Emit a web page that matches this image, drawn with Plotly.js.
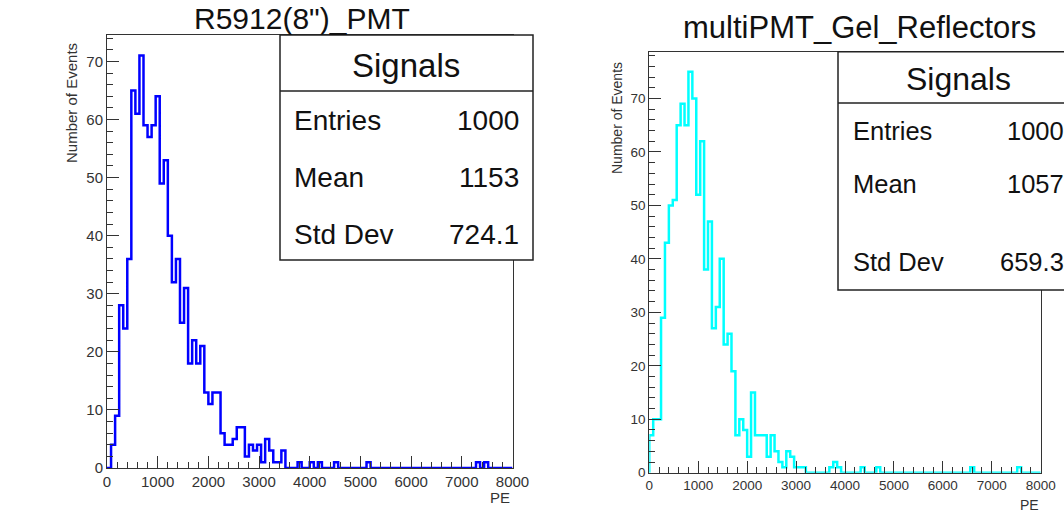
<!DOCTYPE html>
<html>
<head>
<meta charset="utf-8">
<script src="https://cdn.plot.ly/plotly-3.0.1.min.js"></script>
<style>html,body{margin:0;padding:0;background:#fff;}#plot{width:1064px;height:512px;}</style>
</head>
<body>
<div id="plot"></div>
<script>
// ---- data ----
const binWidth = 80; // PE per bin, 100 bins over 0-8000
const leftCounts = [
  0,4,9,28,24,36,65,61,71,59,
  57,59,64,49,53,40,32,36,25,31,
  18,22,18,21,13,11,13,13,6,4,
  4,5,7,7,2,4,3,4,1,5,
  3,1,1,3,0,0,0,1,0,0,
  1,0,1,0,0,0,1,0,0,0,
  0,0,0,0,1,0,0,0,0,0,
  0,0,0,0,0,0,0,0,0,0,
  0,0,0,0,0,0,0,0,0,0,
  0,1,0,1,0,0,0,0,0,0
];
const rightCounts = [
  7,10,10,29,43,50,51,65,69,65,
  75,70,52,62,38,47,27,31,40,24,
  26,19,7,10,8,3,15,7,7,7,
  3,7,4,2,1,4,3,1,1,1,
  0,0,0,0,0,0,1,2,1,0,
  0,0,0,0,1,0,0,0,1,0,
  0,0,0,0,0,0,0,0,0,0,
  0,0,0,0,0,0,0,0,0,0,
  0,0,1,0,0,0,0,0,0,0,
  0,0,0,0,1,0,0,0,0,0
];
const titles = ['R5912(8")_PMT', 'multiPMT_Gel_Reflectors'];
const statsHeader = 'Signals';
const statLabels = ['Entries', 'Mean', 'Std Dev'];
const leftStats = ['1000', '1153', '724.1'];
const rightStats = ['1000', '1057', '659.3'];
const xTitle = 'PE';
const yTitle = 'Number of Events';
const xTickVals = [0,1000,2000,3000,4000,5000,6000,7000,8000];

// ---- helpers ----
const W = 1064, H = 512;
const px = x => x / W;
const py = y => 1 - y / H;
const FONT = 'Liberation Sans, Arial, Helvetica, sans-serif';

function stepTrace(counts, color, width, xa, ya) {
  const xs = [0], ys = [0];
  counts.forEach((c, i) => { xs.push(i * binWidth); ys.push(c); });
  xs.push(counts.length * binWidth); ys.push(counts[counts.length - 1]);
  xs.push(counts.length * binWidth); ys.push(0);
  return {x: xs, y: ys, type: 'scatter', mode: 'lines', xaxis: xa, yaxis: ya,
          line: {shape: 'hv', color: color, width: width}, hoverinfo: 'skip'};
}

function xAxis(dom, fs, anchor) {
  return {domain: dom, range: [0, 8000], anchor: anchor, showgrid: false, zeroline: false,
    showline: true, mirror: true, linecolor: '#333', linewidth: 1,
    ticks: 'inside', ticklen: 12, tickwidth: 1, tickcolor: '#333',
    tickvals: xTickVals, ticktext: xTickVals.map(String),
    minor: {ticks: 'inside', ticklen: 6, dtick: 200, tickcolor: '#333', tickwidth: 1},
    tickfont: {family: FONT, size: fs, color: '#333'}, fixedrange: true};
}
function yAxis(dom, top, fs, anchor) {
  return {domain: dom, range: [0, top], anchor: anchor, showgrid: false, zeroline: false,
    showline: true, mirror: true, linecolor: '#333', linewidth: 1,
    ticks: 'inside', ticklen: 12, tickwidth: 1, tickcolor: '#333', dtick: 10,
    minor: {ticks: 'inside', ticklen: 6, dtick: 2, tickcolor: '#333', tickwidth: 1},
    tickfont: {family: FONT, size: fs, color: '#333'}, fixedrange: true};
}

const leftMax = Math.max(...leftCounts) * 1.05;
const rightMax = Math.max(...rightCounts) * 1.05;

const data = [
  stepTrace(leftCounts, '#0000ff', 2.5, 'x', 'y'),
  stepTrace(rightCounts, '#00ffff', 2.5, 'x2', 'y2')
];

// geometry (pixels)
const L = {x0: 107, x1: 512.5, y0: 468, y1: 35};
const R = {x0: 649.3, x1: 1040.7, y0: 472.7, y1: 51.7};
const LB = {x0: 280, x1: 533, y0: 35, y1: 260, head: 91, rows: [120, 177, 234], lx: 292, vx: 521, fs: 28, hfs: 33, hx: 406};
const RB = {x0: 838, x1: 1110, y0: 51.7, y1: 290, head: 103, rows: [131, 184, 262], lx: 851, vx: 1066, fs: 25.5, hfs: 32, hx: 958};

const shapes = [];
const annotations = [];
function statBox(B, vals) {
  shapes.push({type: 'rect', xref: 'paper', yref: 'paper', x0: px(B.x0), x1: px(B.x1), y0: py(B.y0), y1: py(B.y1),
               line: {color: '#222', width: 1.5}, fillcolor: '#fff', layer: 'above'});
  shapes.push({type: 'line', xref: 'paper', yref: 'paper', x0: px(B.x0), x1: px(B.x1), y0: py(B.head), y1: py(B.head),
               line: {color: '#222', width: 1.5}, layer: 'above'});
  annotations.push({xref: 'paper', yref: 'paper', x: px(B.hx), y: py((B.y0 + B.head) / 2 + 2),
    text: statsHeader, showarrow: false, xanchor: 'center', yanchor: 'middle', font: {family: FONT, size: B.hfs, color: '#111'}});
  statLabels.forEach((lab, i) => {
    annotations.push({xref: 'paper', yref: 'paper', x: px(B.lx), y: py(B.rows[i]), text: lab, showarrow: false,
      xanchor: 'left', yanchor: 'middle', font: {family: FONT, size: B.fs, color: '#111'}});
    annotations.push({xref: 'paper', yref: 'paper', x: px(B.vx), y: py(B.rows[i]), text: vals[i], showarrow: false,
      xanchor: 'right', yanchor: 'middle', font: {family: FONT, size: B.fs, color: '#111'}});
  });
}
statBox(LB, leftStats);
statBox(RB, rightStats);

// titles
annotations.push({xref: 'paper', yref: 'paper', x: px(302), y: 1, text: titles[0], showarrow: false,
  xanchor: 'center', yanchor: 'top', font: {family: FONT, size: 30, color: '#111'}});
annotations.push({xref: 'paper', yref: 'paper', x: px(859), y: py(27), text: titles[1], showarrow: false,
  xanchor: 'center', yanchor: 'middle', font: {family: FONT, size: 31, color: '#111'}});
// axis titles
annotations.push({xref: 'paper', yref: 'paper', x: px(71), y: py(103), text: yTitle, showarrow: false, textangle: -90,
  xanchor: 'center', yanchor: 'middle', font: {family: FONT, size: 15, color: '#333'}});
annotations.push({xref: 'paper', yref: 'paper', x: px(617), y: py(118), text: yTitle, showarrow: false, textangle: -90,
  xanchor: 'center', yanchor: 'middle', font: {family: FONT, size: 14, color: '#333'}});
annotations.push({xref: 'paper', yref: 'paper', x: px(512), y: py(497), text: xTitle, showarrow: false,
  xanchor: 'right', yanchor: 'middle', font: {family: FONT, size: 15, color: '#333'}});
annotations.push({xref: 'paper', yref: 'paper', x: px(1041), y: py(505), text: xTitle, showarrow: false,
  xanchor: 'right', yanchor: 'middle', font: {family: FONT, size: 14, color: '#333'}});

const layout = {
  width: W, height: H, margin: {l: 0, r: 0, t: 0, b: 0},
  paper_bgcolor: '#fff', plot_bgcolor: '#fff', showlegend: false,
  xaxis: xAxis([px(L.x0), px(L.x1)], 15, 'y'),
  yaxis: yAxis([py(L.y0), py(L.y1)], leftMax, 15, 'x'),
  xaxis2: xAxis([px(R.x0), px(R.x1)], 13.5, 'y2'),
  yaxis2: yAxis([py(R.y0), py(R.y1)], rightMax, 13.5, 'x2'),
  shapes: shapes, annotations: annotations
};

Plotly.newPlot('plot', data, layout, {staticPlot: true, displayModeBar: false});
</script>
</body>
</html>
